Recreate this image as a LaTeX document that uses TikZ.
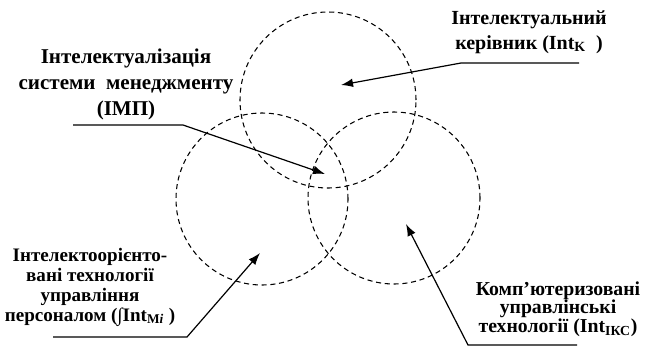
\documentclass[tikz,border=0pt]{standalone}
\usepackage{fontspec}
\setmainfont{Liberation Serif}
\usetikzlibrary{arrows.meta}
\tikzset{
  zone/.style={circle,draw,dashed,dash pattern=on 3.8pt off 2.8pt,line width=0.8pt,inner sep=0pt},
  label/.style={align=center,font=\bfseries\fontsize{14.8}{17}\selectfont,inner sep=0pt},
  pointer/.style={-{Latex[length=9pt,width=6.5pt]},line width=0.9pt}
}
\begin{document}
\begin{tikzpicture}[x=0.75pt,y=-0.75pt]
  \useasboundingbox (0,0) rectangle (648,347);

  % three areas
  \node[zone,minimum size=132pt] (circK) at (328,100) {};
  \node[zone,minimum size=129pt] (circM) at (262,199) {};
  \node[zone,minimum size=129pt] (circI) at (394,198) {};

  % labels
  \node[label,font=\bfseries\fontsize{15.8}{19.5}\selectfont] (imp) at (126,84) {Інтелектуалізація\\системи~~менеджменту\\(ІМП)};
  \node[label,font=\bfseries\fontsize{15}{18.5}\selectfont] (kerivnyk) at (529,32) {Інтелектуальний\\керівник (Int\textsubscript{K}~~)};
  \node[label,font=\bfseries\fontsize{14.3}{15}\selectfont] (personal) at (90,287) {Інтелектоорієнто-\\вані технології\\управління\\персоналом (∫Int\textsubscript{M\textit{i}}~)};
  \node[label,font=\bfseries\fontsize{14.8}{14}\selectfont] (ikt) at (558,309) {Комп’ютеризовані\\управлінські\\технології (Int\textsubscript{ІКС})};

  % pointers
  \coordinate (impA) at (73,125);
  \coordinate (impB) at (183,125);
  \coordinate (impT) at (325,174);
  \draw[pointer] (impA) -- (impB) -- (impT);

  \coordinate (kerA) at (579,63);
  \coordinate (kerB) at (461,63);
  \coordinate (kerT) at (341,85);
  \draw[pointer] (kerA) -- (kerB) -- (kerT);

  \coordinate (perA) at (53,337);
  \coordinate (perB) at (187,337);
  \coordinate (perT) at (260,253);
  \draw[pointer] (perA) -- (perB) -- (perT);

  \coordinate (iktA) at (577,345);
  \coordinate (iktB) at (468,345);
  \coordinate (iktT) at (406,224);
  \draw[pointer] (iktA) -- (iktB) -- (iktT);
\end{tikzpicture}
\end{document}
